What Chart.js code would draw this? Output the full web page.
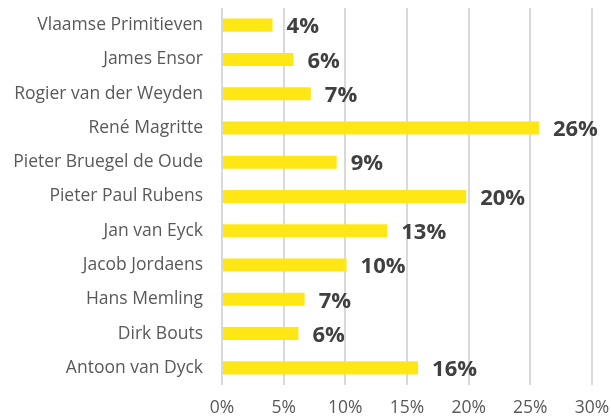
<!DOCTYPE html>
<html>
<head>
<meta charset="utf-8">
<script src="https://cdn.jsdelivr.net/npm/chart.js@4"></script>
<style>
    html, body { margin: 0; padding: 0; background: #ffffff; }
    #chartWrap { width: 611px; height: 419px; position: relative; }
</style>
</head>
<body>
<div id="chartWrap"><canvas id="artistChart"></canvas></div>
<script>
var artists = [
    'Vlaamse Primitieven',
    'James Ensor',
    'Rogier van der Weyden',
    'René Magritte',
    'Pieter Bruegel de Oude',
    'Pieter Paul Rubens',
    'Jan van Eyck',
    'Jacob Jordaens',
    'Hans Memling',
    'Dirk Bouts',
    'Antoon van Dyck'
];
var shares = [4.1, 5.8, 7.2, 25.7, 9.3, 19.8, 13.4, 10.1, 6.7, 6.2, 15.9];
var axisTicks = [0, 5, 10, 15, 20, 25, 30];

(function () {
    var chartElement = document.getElementById('artistChart');
    if (!chartElement || typeof Chart === 'undefined') {
        return;
    }

    var fontFamily = '"Open Sans", "Noto Sans", sans-serif';

    // writes the rounded percentage just past the end of each bar
    var valueLabels = {
        id: 'valueLabels',
        afterDatasetsDraw: function (chart) {
            var ctx = chart.ctx;
            var meta = chart.getDatasetMeta(0);
            ctx.save();
            ctx.font = 'bold 22px ' + fontFamily;
            ctx.fillStyle = '#404040';
            ctx.textAlign = 'left';
            ctx.textBaseline = 'middle';
            meta.data.forEach(function (bar, i) {
                ctx.fillText(Math.round(shares[i]) + '%', bar.x + 14, bar.y + 2);
            });
            ctx.restore();
        }
    };

    new Chart(chartElement.getContext('2d'), {
        type: 'bar',
        data: {
            labels: artists,
            datasets: [{
                data: shares,
                backgroundColor: '#FFE615',
                borderWidth: 0,
                barPercentage: 0.38,
                categoryPercentage: 1
            }]
        },
        plugins: [valueLabels],
        options: {
            indexAxis: 'y',
            responsive: true,
            maintainAspectRatio: false,
            animation: false,
            layout: { padding: { top: 8, right: 19, left: 0, bottom: 0 } },
            plugins: {
                legend: { display: false },
                tooltip: { enabled: false }
            },
            scales: {
                x: {
                    min: 0,
                    max: 30,
                    afterBuildTicks: function (scale) {
                        scale.ticks = axisTicks.map(function (v) { return { value: v }; });
                    },
                    afterFit: function (scale) {
                        scale.height = 34;
                        scale.paddingLeft = 0;
                        scale.paddingRight = 0;
                    },
                    border: { display: false },
                    grid: { color: '#d9d9d9', lineWidth: 2, drawTicks: false },
                    ticks: {
                        padding: 13,
                        color: '#595959',
                        font: { family: fontFamily, size: 17.5 },
                        callback: function (value) { return value + '%'; }
                    }
                },
                y: {
                    afterFit: function (scale) {
                        scale.width = 222;
                        scale.paddingTop = 0;
                        scale.paddingBottom = 0;
                    },
                    border: { display: false },
                    grid: { display: false, drawTicks: false },
                    ticks: {
                        padding: 19,
                        color: '#595959',
                        font: { family: fontFamily, size: 17.5 }
                    }
                }
            }
        }
    });
})();
</script>
</body>
</html>
